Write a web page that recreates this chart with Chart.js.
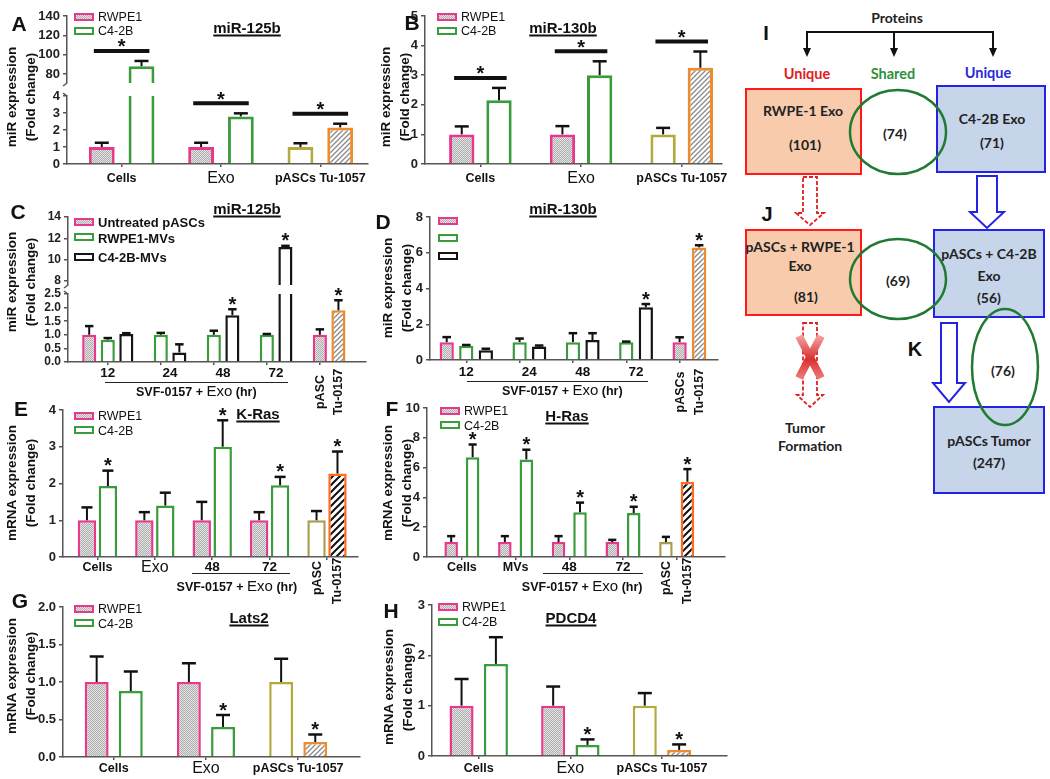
<!DOCTYPE html>
<html>
<head>
<meta charset="utf-8">
<title>miRNA / mRNA expression panels</title>
<script src="https://cdn.jsdelivr.net/npm/chart.js@4.4.1/dist/chart.umd.min.js"></script>
<style>
  html, body { margin: 0; padding: 0; background: #fff; }
  body { position: relative; width: 1050px; height: 779px; overflow: hidden; font-family: "Liberation Sans", Arial, sans-serif; color: #111; }
  canvas { position: absolute; }
  svg.diag { position: absolute; left: 0; top: 0; }
  .t { position: absolute; white-space: nowrap; line-height: 1; transform: translate(-50%, -50%); }
  .t.l { transform: translate(0, -50%); }
  .let { font-weight: bold; font-size: 21px; }
  .ttl { font-weight: bold; font-size: 15px; text-decoration: underline; text-underline-offset: 2px; text-decoration-thickness: 1.5px; }
  .t.yt { font-weight: bold; font-size: 13.5px; line-height: 19px; text-align: center; transform: translate(-50%, -50%) rotate(-90deg); }
  .lg { font-size: 12.5px; }
  .lgb { font-size: 13px; font-weight: bold; }
  .xl { font-weight: bold; font-size: 12.5px; }
  .exo { font-size: 16px; }
  .hr { font-weight: bold; font-size: 13.5px; }
  .svf { font-weight: bold; font-size: 12.5px; }
  .svf span { font-size: 15px; font-weight: normal; }
  .t.rot { font-weight: bold; font-size: 12.5px; transform: translate(-50%, -50%) rotate(-90deg); }
  .sw { position: absolute; width: 16px; height: 4px; border: 2.5px solid; background: #fff; }
  .dot { background: repeating-conic-gradient(#b0b0b0 0 25%, #e4e4e4 0 50%) 0 0 / 2px 2px; }
  .uline { position: absolute; height: 0; border-top: 1.5px solid #222; }
</style>
</head>
<body>
<svg class="diag" width="1050" height="779" viewBox="0 0 1050 779" xmlns="http://www.w3.org/2000/svg">
  <defs>
    <linearGradient id="xg" x1="0" y1="0" x2="0" y2="1">
      <stop offset="0" stop-color="#f5a0a0"/>
      <stop offset="0.55" stop-color="#d83030"/>
      <stop offset="1" stop-color="#f07878"/>
    </linearGradient>
  </defs>
  <!-- bracket -->
  <path d="M807 50 V32 H993 V50 M894 32 V50" fill="none" stroke="#111" stroke-width="2"/>
  <path d="M803 48 L811 48 L807 57 Z M890 48 L898 48 L894 57 Z M989 48 L997 48 L993 57 Z" fill="#111"/>
  <!-- boxes -->
  <rect x="746" y="89" width="115" height="85" fill="#f8cbad" stroke="#ff1a1a" stroke-width="2"/>
  <rect x="937" y="86" width="108" height="86" fill="#c6d5ea" stroke="#2323e6" stroke-width="2"/>
  <rect x="746" y="230" width="115" height="85" fill="#f8cbad" stroke="#ff1a1a" stroke-width="2"/>
  <rect x="934" y="230" width="110" height="87" fill="#c6d5ea" stroke="#2323e6" stroke-width="2"/>
  <rect x="934" y="407" width="110" height="86" fill="#c6d5ea" stroke="#2323e6" stroke-width="2"/>
  <!-- arrows -->
  <path d="M803 177 H817 V213 H824 L810 225 L796 213 H803 Z" fill="#fff" stroke="#e02020" stroke-width="1.8" stroke-dasharray="4 2"/>
  <path d="M977 176 H997 V212 H1004 L987 228 L970 212 H977 Z" fill="#fff" stroke="#2323e6" stroke-width="2"/>
  <path d="M941 323 H957 V383 H965 L949 402 L933 383 H941 Z" fill="#fff" stroke="#2323e6" stroke-width="2"/>
  <path d="M803 323 H817 V395 H823 L810 407 L797 395 H803 Z" fill="#fff" stroke="#e02020" stroke-width="1.8" stroke-dasharray="4 2"/>
  <path d="M799 336 L821 378 M821 336 L799 378" stroke="url(#xg)" stroke-width="8"/>
  <!-- overlaps -->
  <ellipse cx="898" cy="132" rx="48" ry="42" fill="none" stroke="#217a33" stroke-width="2.5"/>
  <ellipse cx="898" cy="279" rx="48" ry="40" fill="none" stroke="#217a33" stroke-width="2.5"/>
  <ellipse cx="1005" cy="367" rx="33" ry="58" fill="none" stroke="#217a33" stroke-width="2.5"/>
  <g font-family="Lato, 'Liberation Sans', sans-serif" font-weight="bold" text-anchor="middle" dominant-baseline="central" fill="#222" font-size="14">
    <text x="897" y="17">Proteins</text>
    <text x="807" y="73" font-size="14.5" fill="#e02020">Unique</text>
    <text x="893" y="73" font-size="14.5" fill="#2f8f3c">Shared</text>
    <text x="988" y="72" font-size="14.5" fill="#2a2ad6">Unique</text>
    <text x="803" y="110">RWPE-1 Exo</text>
    <text x="805" y="144">(101)</text>
    <text x="895" y="133">(74)</text>
    <text x="992" y="118">C4-2B Exo</text>
    <text x="992" y="142">(71)</text>
    <text x="800" y="246">pASCs + RWPE-1</text>
    <text x="800" y="265">Exo</text>
    <text x="806" y="296">(81)</text>
    <text x="898" y="280">(69)</text>
    <text x="989" y="253">pASCs + C4-2B</text>
    <text x="989" y="275">Exo</text>
    <text x="989" y="297">(56)</text>
    <text x="1003" y="370">(76)</text>
    <text x="989" y="440">pASCs Tumor</text>
    <text x="989" y="462">(247)</text>
    <text x="805" y="427">Tumor</text>
    <text x="810" y="445">Formation</text>
  </g>
  <g font-family="'Liberation Sans', Arial, sans-serif" font-weight="bold" text-anchor="middle" dominant-baseline="central" fill="#111" font-size="20">
    <text x="766" y="33">I</text>
    <text x="767" y="214">J</text>
    <text x="915" y="349">K</text>
  </g>
</svg>
<script>
// ---------- data ----------
// A  miR-125b : Cells, Exo, pASCs / Tu-1057
const abLabels = ['Cells', 'Exo', 'pASCs Tu-1057'];
const aCtrl = [1.0, 1.0, 1.0];          // RWPE1, RWPE1, pASCs
const aCtrlErr = [0.25, 0.25, 0.22];
const aTreat = [88, 2.8, 2.15];         // C4-2B, C4-2B, Tu-1057
const aTreatErr = [5.5, 0.18, 0.22];
const aTicksHi = [80, 100, 120, 140];
const aTicksLo = [0, 1, 2, 3, 4];

// B  miR-130b
const bCtrl = [1.0, 1.0, 1.0];
const bCtrlErr = [0.27, 0.28, 0.22];
const bTreat = [2.15, 3.0, 3.25];
const bTreatErr = [0.42, 0.47, 0.55];
const bTicks = [0, 1, 2, 3, 4, 5];

// C  miR-125b, SVF-0157 + Exo time course (hr)
const hrLabels = ['12', '24', '48', '72'];
const cUntreated = [1.0], cUntreatedErr = [0.32];
const cRwpeMV = [0.82, 1.0, 1.0, 1.0], cRwpeMVErr = [0.06, 0.07, 0.15, 0.03];
const cC42bMV = [1.03, 0.35, 1.72, 11.2], cC42bMVErr = [0.03, 0.3, 0.22, 0.1];
const cPasc = [1.0], cPascErr = [0.2];
const cTumor = [1.9], cTumorErr = [0.37];
const cStars = [0, 0, 1, 1, 1];
const cTicksHi = [8, 10, 12, 14];
const cTicksLo = [0, 0.5, 1, 1.5, 2, 2.5];

// D  miR-130b
const dUntreated = [1.0], dUntreatedErr = [0.28];
const dRwpeMV = [0.8, 1.0, 1.0, 1.0], dRwpeMVErr = [0.04, 0.2, 0.5, 0.03];
const dC42bMV = [0.55, 0.75, 1.12, 2.95], dC42bMVErr = [0.08, 0.06, 0.38, 0.18];
const dPasc = [1.0], dPascErr = [0.27];
const dTumor = [6.3], dTumorErr = [0.12];
const dStars = [0, 0, 0, 1, 1];
const dTicks = [0, 2, 4, 6, 8];

// E  K-Ras
const eLabels = ['Cells', 'Exo', '48', '72'];
const eRwpe = [1.0, 1.0, 1.0, 1.0], eRwpeErr = [0.35, 0.22, 0.5, 0.22];
const eC42b = [1.93, 1.4, 3.0, 1.95], eC42bErr = [0.42, 0.35, 0.72, 0.23];
const ePasc = [1.0], ePascErr = [0.25];
const eTumor = [2.27], eTumorErr = [0.6];
const eStars = [1, 0, 1, 1, 1];
const eTicks = [0, 1, 2, 3, 4];

// F  H-Ras
const fLabels = ['Cells', 'MVs', '48', '72'];
const fRwpe = [1.0, 1.0, 1.0, 1.0], fRwpeErr = [0.4, 0.4, 0.4, 0.15];
const fC42b = [6.7, 6.55, 3.0, 2.95], fC42bErr = [0.85, 0.65, 0.65, 0.42];
const fPasc = [1.0], fPascErr = [0.35];
const fTumor = [5.05], fTumorErr = [0.85];
const fStars = [1, 1, 1, 1, 1];
const fTicks = [0, 2, 4, 6, 8, 10];

// G  Lats2
const gCtrl = [1.0, 1.0, 1.0], gCtrlErr = [0.34, 0.25, 0.31];
const gTreat = [0.88, 0.4, 0.2], gTreatErr = [0.26, 0.16, 0.1];
const gStars = [0, 1, 1];
const gTicks = [0, 0.5, 1, 1.5, 2];

// H  PDCD4
const hCtrl = [1.0, 1.0, 1.0], hCtrlErr = [0.53, 0.38, 0.25];
const hTreat = [1.83, 0.22, 0.12], hTreatErr = [0.53, 0.11, 0.11];
const hStars = [0, 1, 1];
const hTicks = [0, 1, 2, 3];

// ---------- styles ----------
Chart.defaults.font.family = '"Liberation Sans", Arial, sans-serif';
const AX = '#555';
const PINK = '#e8388c', GREEN = '#3a9c3c', BLACK = '#151515';
const OLIVE = '#b3aa3e', OLIVE_E = '#a99d50', ORANGE = '#ee8b2c', ORANGE_E = '#ff6a1c';

function pattern(s, draw) {
  const c = document.createElement('canvas');
  c.width = s; c.height = s;
  const g = c.getContext('2d');
  draw(g, s);
  return g.createPattern(c, 'repeat');
}
const DOTS = pattern(2, g => {
  g.fillStyle = '#e4e4e4'; g.fillRect(0, 0, 2, 2);
  g.fillStyle = '#adadad'; g.fillRect(0, 0, 1, 1); g.fillRect(1, 1, 1, 1);
});
function hatch(col, lw, s) {
  return pattern(s, g => {
    g.fillStyle = '#fff'; g.fillRect(0, 0, s, s);
    g.strokeStyle = col; g.lineWidth = lw;
    g.beginPath();
    g.moveTo(0, s); g.lineTo(s, 0);
    g.moveTo(-1, 1); g.lineTo(1, -1);
    g.moveTo(s - 1, s + 1); g.lineTo(s + 1, s - 1);
    g.stroke();
  });
}
const HATCH_G = hatch('#8a8a8a', 1.3, 5);
const HATCH_K = hatch('#111', 2, 7);
const W = '#fff';
const rep = (n, v) => Array(n).fill(v);
const pad = (a, n) => a.concat(rep(n - a.length, null));

// ---------- drawing helpers ----------
function star(ctx, x, yc) {
  ctx.font = 'bold 20px "Liberation Sans"';
  ctx.textAlign = 'center';
  ctx.textBaseline = 'alphabetic';
  ctx.fillText('*', x, yc + 11.5);
}

const errBars = {
  id: 'errBars',
  afterDatasetsDraw(chart, _a, opts) {
    const { ctx, chartArea: ca, scales: { y } } = chart;
    const inRange = v => v >= y.min && v <= y.max;
    ctx.save();
    ctx.strokeStyle = '#111';
    ctx.fillStyle = '#111';
    chart.data.datasets.forEach((ds, d) => {
      const bars = chart.getDatasetMeta(d).data;
      ds.data.forEach((p, k) => {
        if (!inRange(p.y)) return;
        const bar = bars[k];
        const top = y.getPixelForValue(p.y + p.e);
        const half = Math.min(7, bar.width * 0.3);
        ctx.lineWidth = 2;
        ctx.beginPath(); ctx.moveTo(bar.x, bar.y); ctx.lineTo(bar.x, top); ctx.stroke();
        ctx.lineWidth = 2.5;
        ctx.beginPath(); ctx.moveTo(bar.x - half, top); ctx.lineTo(bar.x + half, top); ctx.stroke();
        if (p.s) star(ctx, bar.x, top - 10);
      });
    });
    // significance bars over pairs
    (opts.sig || []).forEach((on, i) => {
      if (!on) return;
      const pts = chart.data.datasets.map((ds, d) => {
        const k = ds.data.findIndex(p => p.x === i);
        return k < 0 ? null : { p: ds.data[k], bar: chart.getDatasetMeta(d).data[k] };
      }).filter(Boolean);
      const hi = Math.max(...pts.map(o => o.p.y + o.p.e));
      if (!inRange(hi)) return;
      const yy = y.getPixelForValue(hi) - 10;
      const a = pts[0].bar, b = pts[pts.length - 1].bar;
      const x1 = a.x - a.width / 2 + 5, x2 = b.x + b.width / 2 - 5;
      ctx.lineWidth = 4;
      ctx.beginPath(); ctx.moveTo(x1, yy); ctx.lineTo(x2, yy); ctx.stroke();
      star(ctx, (x1 + x2) / 2, yy - 9);
    });
    // broken-axis hook
    if (opts.brk) {
      const yb = opts.brk === 'top' ? ca.top : ca.bottom;
      const dy = opts.brk === 'top' ? -3 : 3;
      ctx.strokeStyle = AX; ctx.lineWidth = 1.5;
      ctx.beginPath(); ctx.moveTo(ca.left, yb); ctx.lineTo(ca.left - 4, yb + dy); ctx.stroke();
    }
    ctx.restore();
  }
};

function panel(cfg) {
  const [l, t, r, b] = cfg.area;
  const PL = 44, PT = 26, PR = 20, PB = 20;
  const w = r - l + PL + PR, h = b - t + PT + PB;
  const cv = document.createElement('canvas');
  cv.width = w; cv.height = h;
  cv.style.left = (l - PL) + 'px'; cv.style.top = (t - PT) + 'px';
  cv.style.width = w + 'px'; cv.style.height = h + 'px';
  document.body.appendChild(cv);
  const n = cfg.series[0].v.length;
  return new Chart(cv.getContext('2d'), {
    type: 'bar',
    data: {
      datasets: cfg.series.map(s => ({
        data: s.v.map((v, i) => ({ x: i, y: v, e: s.e[i] || 0, s: s.star ? s.star[i] : 0 }))
                 .filter(p => p.y != null),
        backgroundColor: c => c.raw ? s.fill[c.raw.x] : s.fill[0],
        borderColor: c => c.raw ? s.line[c.raw.x] : s.line[0],
        borderWidth: cfg.bw,
        borderSkipped: 'start',
        clip: 0
      }))
    },
    options: {
      responsive: false,
      animation: false,
      devicePixelRatio: 1,
      events: [],
      layout: { padding: { left: 0, top: PT, right: PR, bottom: PB } },
      datasets: { bar: { categoryPercentage: cfg.cp, barPercentage: cfg.bp } },
      plugins: {
        legend: { display: false },
        tooltip: { enabled: false },
        errBars: { sig: cfg.sig, brk: cfg.brk }
      },
      scales: {
        x: {
          type: 'linear', min: cfg.x[0], max: cfg.x[1], offset: false,
          display: !cfg.noX,
          ticks: { display: false },
          grid: { display: true, drawOnChartArea: false, offset: false, tickLength: 3, color: AX, lineWidth: 1.5 },
          border: { color: AX, width: 1.5 },
          afterBuildTicks: s => { s.ticks = rep(n, 0).map((_, i) => ({ value: i })); },
          afterFit: s => { s.height = 0; }
        },
        y: {
          min: cfg.y[0], max: cfg.y[1],
          ticks: {
            autoSkip: false, padding: 3, color: '#222',
            font: { size: cfg.tf || 13, weight: 'bold' },
            callback: v => cfg.dec ? Number(v).toFixed(cfg.dec) : String(v)
          },
          grid: { drawOnChartArea: false, tickLength: 4, color: AX, lineWidth: 1.5 },
          border: { color: AX, width: 1.5 },
          afterBuildTicks: s => { s.ticks = cfg.ticks.map(v => ({ value: v })); },
          afterFit: s => { s.width = PL; }
        }
      }
    },
    plugins: [errBars]
  });
}

// ---------- series ----------
const pair = (ctrl, ctrlErr, treat, treatErr, stars, lastCtrlLine, lastTreatFill, lastTreatLine) => {
  const n = ctrl.length;
  return [
    { v: ctrl, e: ctrlErr, fill: rep(n - 1, DOTS).concat([W]), line: rep(n - 1, PINK).concat([lastCtrlLine]) },
    { v: treat, e: treatErr, star: stars, fill: rep(n - 1, W).concat([lastTreatFill]), line: rep(n - 1, GREEN).concat([lastTreatLine]) }
  ];
};
const trio = (unt, untErr, rw, rwErr, c4, c4Err, pasc, pascErr, tu, tuErr, stars) => [
  { v: pad(unt, 5), e: pad(untErr, 5), fill: [DOTS], line: [PINK] },
  { v: rw.concat(pasc), e: rwErr.concat(pascErr), fill: rep(4, W).concat([DOTS]), line: rep(4, GREEN).concat([PINK]) },
  { v: c4.concat(tu), e: c4Err.concat(tuErr), star: stars, fill: rep(4, W).concat([HATCH_G]), line: rep(4, BLACK).concat([ORANGE]) }
];

const sA = pair(aCtrl, aCtrlErr, aTreat, aTreatErr, null, OLIVE, HATCH_G, ORANGE);
const sB = pair(bCtrl, bCtrlErr, bTreat, bTreatErr, null, OLIVE, HATCH_G, ORANGE);
const sC = trio(cUntreated, cUntreatedErr, cRwpeMV, cRwpeMVErr, cC42bMV, cC42bMVErr, cPasc, cPascErr, cTumor, cTumorErr, cStars);
const sD = trio(dUntreated, dUntreatedErr, dRwpeMV, dRwpeMVErr, dC42bMV, dC42bMVErr, dPasc, dPascErr, dTumor, dTumorErr, dStars);
const sE = pair(eRwpe.concat(ePasc), eRwpeErr.concat(ePascErr), eC42b.concat(eTumor), eC42bErr.concat(eTumorErr), eStars, OLIVE_E, HATCH_K, ORANGE_E);
const sF = pair(fRwpe.concat(fPasc), fRwpeErr.concat(fPascErr), fC42b.concat(fTumor), fC42bErr.concat(fTumorErr), fStars, OLIVE_E, HATCH_K, ORANGE_E);
const sG = pair(gCtrl, gCtrlErr, gTreat, gTreatErr, gStars, OLIVE, HATCH_G, ORANGE);
const sH = pair(hCtrl, hCtrlErr, hTreat, hTreatErr, hStars, OLIVE, HATCH_G, ORANGE);

// ---------- charts ----------
const chA = panel({ area: [67, 96, 368, 164], x: [-0.55, 2.48], y: [0, 4], ticks: aTicksLo, series: sA, cp: 0.8, bp: 0.65, bw: 3, sig: [1, 1, 1], brk: 'top' });
panel({ area: [67, 16, 368, 83], x: [-0.55, 2.48], y: [70.7, 140], ticks: aTicksHi, series: sA, cp: 0.8, bp: 0.65, bw: 3, sig: [1, 1, 1], brk: 'bottom', noX: true });
const chB = panel({ area: [425, 16, 722, 164], x: [-0.55, 2.4], y: [0, 5], ticks: bTicks, series: sB, cp: 0.74, bp: 0.68, bw: 3, sig: [1, 1, 1] });
const chC = panel({ area: [68, 294, 366, 362], x: [-0.75, 4.87], y: [0, 2.5], ticks: cTicksLo, dec: 1, tf: 12, series: sC, cp: 1.05, bp: 0.76, bw: 2.5, brk: 'top' });
panel({ area: [68, 217, 366, 285], x: [-0.75, 4.87], y: [7.63, 14], ticks: cTicksHi, tf: 12, series: sC, cp: 1.05, bp: 0.76, bw: 2.5, brk: 'bottom', noX: true });
const chD = panel({ area: [430, 217, 718, 360], x: [-0.68, 4.72], y: [0, 8], ticks: dTicks, series: sD, cp: 1.1, bp: 0.73, bw: 2.5 });
const chE = panel({ area: [63, 410, 358, 557], x: [-0.6, 4.54], y: [0, 4], ticks: eTicks, series: sE, cp: 0.73, bp: 0.88, bw: 2.5 });
const chF = panel({ area: [427, 408, 725, 557], x: [-0.65, 4.9], y: [0, 10], ticks: fTicks, series: sF, cp: 0.8, bp: 0.63, bw: 2.5 });
const chG = panel({ area: [63, 607, 360, 757], x: [-0.55, 2.67], y: [0, 2], ticks: gTicks, dec: 1, series: sG, cp: 0.74, bp: 0.7, bw: 2.5 });
const chH = panel({ area: [432, 605, 727, 756], x: [-0.51, 2.71], y: [0, 3], ticks: hTicks, series: sH, cp: 0.75, bp: 0.7, bw: 2.5 });

// ---------- text ----------
function put(html, x, y, cls) {
  const d = document.createElement('div');
  d.className = 't ' + cls;
  d.innerHTML = html;
  d.style.left = x + 'px';
  d.style.top = y + 'px';
  document.body.appendChild(d);
  return d;
}
const ox = ch => parseFloat(ch.canvas.style.left);
const sx = (ch, v) => ox(ch) + ch.scales.x.getPixelForValue(v);
function barX(ch, d, i) {
  const k = ch.data.datasets[d].data.findIndex(p => p.x === i);
  return ox(ch) + ch.getDatasetMeta(d).data[k].x;
}
function groupX(ch, i) {
  const xs = [];
  ch.data.datasets.forEach((ds, d) => { if (ds.data.some(p => p.x === i)) xs.push(barX(ch, d, i)); });
  return xs.reduce((a, b) => a + b, 0) / xs.length;
}
function catLabels(ch, labels, y) {
  labels.forEach((lab, i) => {
    const cls = lab === 'Exo' ? 'exo' : /^\d+$/.test(lab) ? 'hr' : 'xl';
    put(lab, groupX(ch, i), y, cls);
  });
}
function legend(x, yc, dotted, color, text, cls) {
  const s = document.createElement('div');
  s.className = 'sw' + (dotted ? ' dot' : '');
  s.style.left = x + 'px';
  s.style.top = (yc - 4.5) + 'px';
  s.style.borderColor = color;
  document.body.appendChild(s);
  if (text) put(text, x + 24, yc, 'l ' + (cls || 'lg'));
}
function uline(ch, v1, v2, y) {
  const d = document.createElement('div');
  d.className = 'uline';
  const x1 = sx(ch, v1), x2 = sx(ch, v2);
  d.style.left = x1 + 'px'; d.style.width = (x2 - x1) + 'px'; d.style.top = y + 'px';
  document.body.appendChild(d);
}
const SVF = 'SVF-0157 + <span>Exo</span> (hr)';
const MIR = 'miR expression<br>(Fold change)';
const MRNA = 'mRNA expression<br>(Fold change)';

// panel letters
[['A', 19, 23], ['B', 412, 22], ['C', 18, 211], ['D', 383, 221], ['E', 21, 408], ['F', 392, 408], ['G', 20, 600], ['H', 391, 610]]
  .forEach(([s, x, y]) => put(s, x, y, 'let'));
// titles
[['miR-125b', 247, 27], ['miR-130b', 563, 27], ['miR-125b', 247, 208], ['miR-130b', 563, 208],
 ['K-Ras', 258, 413], ['H-Ras', 567, 415], ['Lats2', 249, 617], ['PDCD4', 571, 617]]
  .forEach(([s, x, y]) => put(s, x, y, 'ttl'));
// y titles
[[MIR, 21, 97], [MIR, 395, 97], [MIR, 21, 282], [MIR, 397, 288], [MRNA, 21, 483], [MRNA, 397, 483], [MRNA, 21, 676], [MRNA, 398, 687]]
  .forEach(([s, x, y]) => put(s, x, y, 'yt'));

// legends
legend(74, 17, true, PINK, 'RWPE1'); legend(74, 31, false, GREEN, 'C4-2B');
legend(437, 17, true, PINK, 'RWPE1'); legend(437, 31, false, GREEN, 'C4-2B');
legend(74, 222, true, PINK, 'Untreated pASCs', 'lgb'); legend(74, 237.5, false, GREEN, 'RWPE1-MVs', 'lgb'); legend(74, 257, false, BLACK, 'C4-2B-MVs', 'lgb');
legend(438, 221.5, true, PINK); legend(438, 238, false, GREEN); legend(438, 256, false, BLACK);
legend(74, 416, true, PINK, 'RWPE1'); legend(74, 430.5, false, GREEN, 'C4-2B');
legend(440, 411, true, PINK, 'RWPE1'); legend(440, 425.5, false, GREEN, 'C4-2B');
legend(74, 609, true, PINK, 'RWPE1'); legend(74, 623.5, false, GREEN, 'C4-2B');
legend(438, 607, true, PINK, 'RWPE1'); legend(438, 622, false, GREEN, 'C4-2B');

// x labels
catLabels(chA, abLabels, 178);
catLabels(chB, abLabels, 178);
catLabels(chG, abLabels, 768);
catLabels(chH, abLabels, 768);

catLabels(chC, hrLabels, 373);
uline(chC, -0.05, 3.39, 382);
put(SVF, sx(chC, 1.67), 391, 'svf');
put('pASC', barX(chC, 1, 4), 392, 'rot');
put('Tu-0157', barX(chC, 2, 4), 392, 'rot');

catLabels(chD, hrLabels, 372);
uline(chD, 0.02, 3.41, 381);
put(SVF, sx(chD, 1.8), 390, 'svf');
put('pASCs', barX(chD, 1, 4), 392, 'rot');
put('Tu-0157', barX(chD, 2, 4), 392, 'rot');

catLabels(chE, eLabels, 567);
uline(chE, 1.65, 3.36, 573);
put(SVF, sx(chE, 2.43), 586, 'svf');
put('pASC', barX(chE, 0, 4), 578, 'rot');
put('Tu-0157', barX(chE, 1, 4), 581, 'rot');

catLabels(chF, fLabels, 567);
uline(chF, 1.51, 3.37, 573);
put(SVF, sx(chF, 2.24), 586, 'svf');
put('pASC', barX(chF, 0, 4), 578, 'rot');
put('Tu-0157', barX(chF, 1, 4), 581, 'rot');
</script>
</body>
</html>
